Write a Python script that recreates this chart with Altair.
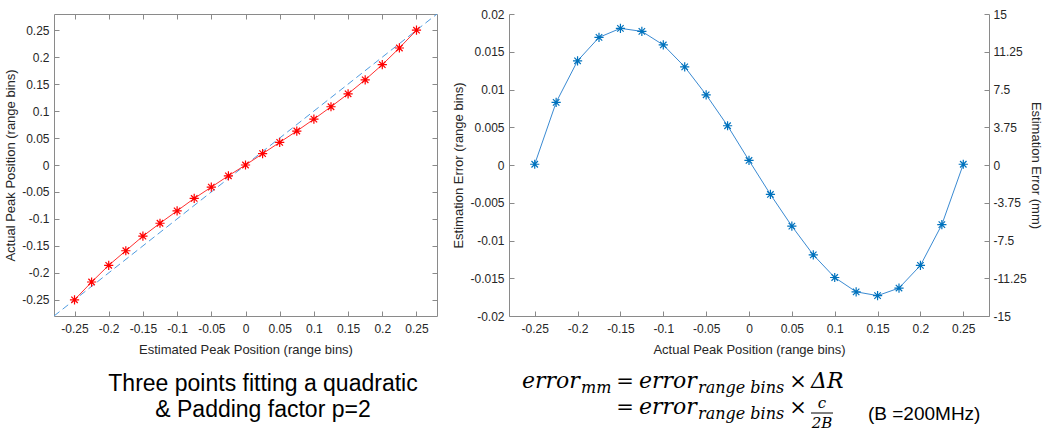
import altair as alt
import pandas as pd

# ---------------- data ----------------
est_pos = [-0.25, -0.225, -0.2, -0.175, -0.15, -0.125, -0.1, -0.075, -0.05, -0.025, 0.0,
           0.025, 0.05, 0.075, 0.1, 0.125, 0.15, 0.175, 0.2, 0.225, 0.25]
act_pos = [-0.25, -0.217, -0.186, -0.159, -0.132, -0.108, -0.085, -0.062, -0.041, -0.020, 0.0,
           0.021, 0.042, 0.063, 0.085, 0.108, 0.132, 0.158, 0.186, 0.217, 0.25]
true_pos = [-0.25, -0.225, -0.2, -0.175, -0.15, -0.125, -0.1, -0.075, -0.05, -0.025, 0.0,
            0.025, 0.05, 0.075, 0.1, 0.125, 0.15, 0.175, 0.2, 0.225, 0.25]
est_err = [0.0001, 0.0083, 0.0138, 0.0169, 0.0181, 0.0177, 0.0159, 0.0130, 0.0093, 0.0052, 0.0006,
           -0.0039, -0.0081, -0.0119, -0.0149, -0.0168, -0.0173, -0.0163, -0.0133, -0.0079, 0.0001]
diag = [-0.28, 0.28]

pos_ticks = [-0.25, -0.2, -0.15, -0.1, -0.05, 0, 0.05, 0.1, 0.15, 0.2, 0.25]
err_ticks = [-0.02, -0.015, -0.01, -0.005, 0, 0.005, 0.01, 0.015, 0.02]
mm_ticks = [-15, -11.25, -7.5, -3.75, 0, 3.75, 7.5, 11.25, 15]
MM_PER_BIN = 750  # c / 2B with B = 200 MHz

caption = ["Three points fitting a quadratic", "& Padding factor p=2"]

# ---------------- style ----------------
FONT = "Liberation Sans"
MATH = "DejaVu Serif"
TXT = "#262626"
AXC = "#8a8a8a"
ASTERISK = "M-1,0L1,0M0,-1L0,1M-0.7,-0.7L0.7,0.7M-0.7,0.7L0.7,-0.7"
INWARD = alt.ExprRef(expr="-5")
LABEL_EXPR = "'' + datum.value"


def axis(orient, values=None, title="", labels=True, pad=10, tpad=4):
    kw = dict(orient=orient, labels=labels, domain=True, domainColor=AXC, domainWidth=1,
              tickColor=AXC, tickSize=INWARD, grid=False, labelPadding=pad,
              titlePadding=tpad, labelExpr=LABEL_EXPR, title=title,
              labelFont=FONT, titleFont=FONT, labelFontSize=12, titleFontSize=13,
              titleFontWeight="normal", labelColor=TXT, titleColor=TXT)
    if values is not None:
        kw["values"] = values
    return alt.Axis(**kw)


one = alt.Data(values=[{"k": 0}])


def txt(text, x, y, size, font=FONT, style="normal", align="left", color="#000000"):
    return alt.Chart(one).mark_text(
        text=text, font=font, fontSize=size, fontStyle=style, align=align,
        baseline="alphabetic", color=color
    ).encode(x=alt.value(x), y=alt.value(y))


# ---------------- left panel ----------------
pscale = alt.Scale(domain=[-0.28, 0.28], nice=False, zero=False)
df_fit = pd.DataFrame({"est": est_pos, "act": act_pos})
df_diag = pd.DataFrame({"est": diag, "act": diag})

diag_line = alt.Chart(df_diag).mark_line(
    color="#4f9be0", strokeDash=[7, 4], strokeWidth=1, clip=True
).encode(
    x=alt.X("est:Q", scale=pscale,
            axis=axis("bottom", pos_ticks, "Estimated Peak Position (range bins)", pad=12, tpad=9)),
    y=alt.Y("act:Q", scale=pscale,
            axis=axis("left", pos_ticks, "Actual Peak Position (range bins)", pad=10, tpad=4)),
)
fit_line = alt.Chart(df_fit).mark_line(color="#ff3030", strokeWidth=1).encode(
    x=alt.X("est:Q", scale=pscale, axis=None),
    y=alt.Y("act:Q", scale=pscale, axis=None),
)
fit_pts = alt.Chart(df_fit).mark_point(
    shape=ASTERISK, size=85, filled=False, color="#ff0000", strokeWidth=1.2, opacity=1
).encode(
    x=alt.X("est:Q", scale=pscale, axis=None),
    y=alt.Y("act:Q", scale=pscale, axis=None),
)
box_axes = alt.Chart(df_diag).mark_point(opacity=0).encode(
    x=alt.X("est:Q", scale=pscale, axis=axis("top", pos_ticks, labels=False)),
    y=alt.Y("act:Q", scale=pscale, axis=axis("right", pos_ticks, labels=False)),
)

left = alt.layer(
    diag_line, fit_line, fit_pts, box_axes,
    txt(caption[0], 209, 377, 23, align="center"),
    txt(caption[1], 209, 403, 23, align="center"),
).resolve_axis(x="independent", y="independent").properties(width=383, height=302)

# ---------------- right panel ----------------
escale = alt.Scale(domain=[-0.02, 0.02], nice=False, zero=False)
df_err = pd.DataFrame({"act": true_pos, "err": est_err})

err_line = alt.Chart(df_err).mark_line(color="#3a8ad2", strokeWidth=1).encode(
    x=alt.X("act:Q", scale=pscale,
            axis=axis("bottom", pos_ticks, "Actual Peak Position (range bins)", pad=12, tpad=9)),
    y=alt.Y("err:Q", scale=escale,
            axis=axis("left", err_ticks, "Estimation Error (range bins)", pad=10, tpad=4)),
)
err_pts = alt.Chart(df_err).mark_point(
    shape=ASTERISK, size=85, filled=False, color="#0072bd", strokeWidth=1.2, opacity=1
).encode(
    x=alt.X("act:Q", scale=pscale, axis=None),
    y=alt.Y("err:Q", scale=escale, axis=None),
)
mm_axis = alt.Chart(df_err).transform_calculate(
    mm=f"datum.err * {MM_PER_BIN}"
).mark_point(opacity=0).encode(
    x=alt.X("act:Q", scale=pscale, axis=None),
    y=alt.Y("mm:Q", scale=alt.Scale(domain=[-15, 15], nice=False, zero=False),
            axis=axis("right", mm_ticks, "Estimation Error (mm)", pad=9, tpad=2)),
)

L1, L2 = 374, 400
eq = [
    # line 1
    txt("error", 13, L1, 22, MATH, "italic"),
    txt("mm", 72, L1 + 5, 16, MATH, "italic"),
    txt("=", 116, L1, 21, MATH, align="center"),
    txt("error", 130, L1, 22, MATH, "italic"),
    txt("range bins", 189, L1 + 5, 16, MATH, "italic"),
    txt("×", 289, L1, 21, MATH, align="center"),
    txt("ΔR", 302, L1, 22, MATH, "italic"),
    # line 2
    txt("=", 116, L2, 21, MATH, align="center"),
    txt("error", 130, L2, 22, MATH, "italic"),
    txt("range bins", 189, L2 + 5, 16, MATH, "italic"),
    txt("×", 289, L2, 21, MATH, align="center"),
    txt("c", 313, L2 - 6, 15, MATH, "italic", align="center"),
    alt.Chart(one).mark_rule(color="#000000", strokeWidth=1).encode(
        x=alt.value(302), x2=alt.value(324), y=alt.value(L2 - 1)),
    txt("2B", 313, L2 + 14, 15, MATH, "italic", align="center"),
    txt("(B =200MHz)", 359, L2 + 6, 19),
]

right = alt.layer(
    alt.layer(err_line, err_pts).resolve_axis(x="independent", y="independent"),
    mm_axis, *eq
).resolve_scale(y="independent").resolve_axis(x="independent", y="independent").properties(
    width=480, height=302)

chart = alt.hconcat(left, right, spacing=12).properties(
    padding={"left": 4, "top": 8, "right": 0, "bottom": 0},
    background="#ffffff",
).configure_view(stroke=None)

chart.save("out.html", embed_options={"renderer": "svg", "actions": False})
